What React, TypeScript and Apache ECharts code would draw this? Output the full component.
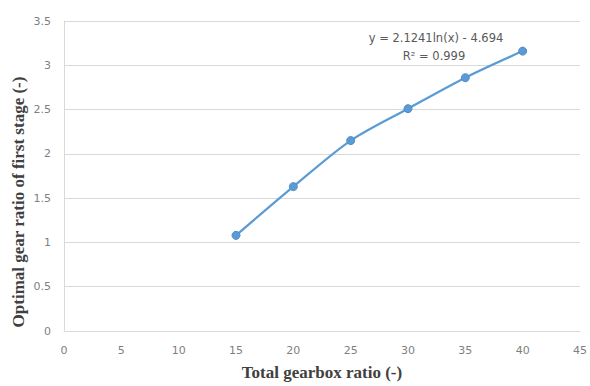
import React, { useEffect, useRef } from "react";
import * as echarts from "echarts";

const totalRatio = [15, 20, 25, 30, 35, 40];
const firstStageRatio = [1.08, 1.63, 2.15, 2.51, 2.86, 3.16];
const equationLines = ["y = 2.1241ln(x) - 4.694", "R² = 0.999"];
const xTitle = "Total gearbox ratio (-)";
const yTitle = "Optimal gear ratio of first stage (-)";

export default function App() {
  const ref = useRef<HTMLDivElement>(null);
  useEffect(() => {
    if (!ref.current) return;
    const chart = echarts.init(ref.current, null, { renderer: "svg" });
    const titleStyle = {
      fontFamily: "Liberation Serif",
      fontWeight: "bold",
      fontSize: 17,
      color: "#404040",
    };
    const tickStyle = { color: "#7f7f7f", fontSize: 11, fontFamily: "DejaVu Sans" };
    chart.setOption({
      animation: false,
      backgroundColor: "#ffffff",
      grid: { left: 64, right: 8, top: 21, bottom: 55 },
      xAxis: {
        type: "value",
        min: 0,
        max: 45,
        interval: 5,
        name: xTitle,
        nameLocation: "middle",
        nameGap: 33,
        nameTextStyle: titleStyle,
        axisLine: { show: true, lineStyle: { color: "#d9d9d9", width: 1 } },
        axisTick: { show: false },
        axisLabel: { ...tickStyle, margin: 14 },
        splitLine: { show: false },
      },
      yAxis: {
        type: "value",
        min: 0,
        max: 3.5,
        interval: 0.5,
        axisLine: { show: true, lineStyle: { color: "#d9d9d9", width: 1 } },
        axisTick: { show: false },
        axisLabel: { ...tickStyle, margin: 13 },
        splitLine: { show: true, lineStyle: { color: "#d9d9d9", width: 1 } },
      },
      series: [
        {
          type: "line",
          data: totalRatio.map((x, i) => [x, firstStageRatio[i]]),
          smooth: 0.3,
          symbol: "circle",
          symbolSize: 8,
          lineStyle: { color: "#5b9bd5", width: 2.2 },
          itemStyle: { color: "#5b9bd5", borderColor: "#4f8bc4", borderWidth: 1 },
        },
      ],
      graphic: [
        {
          type: "text",
          x: 18,
          y: 202,
          rotation: Math.PI / 2,
          style: {
            text: yTitle,
            fill: "#404040",
            font: "bold 17px 'Liberation Serif'",
            align: "center",
            verticalAlign: "middle",
          },
        },
        {
          type: "text",
          x: 436,
          y: 38,
          style: {
            text: equationLines[0],
            fill: "#595959",
            font: "11.5px 'DejaVu Sans'",
            align: "center",
            verticalAlign: "middle",
          },
        },
        {
          type: "text",
          x: 434,
          y: 56,
          style: {
            text: equationLines[1],
            fill: "#595959",
            font: "11.5px 'DejaVu Sans'",
            align: "center",
            verticalAlign: "middle",
          },
        },
      ],
    });
    return () => chart.dispose();
  }, []);
  return <div ref={ref} style={{ width: 590, height: 386, position: "absolute", left: 0, top: 0 }} />;
}
